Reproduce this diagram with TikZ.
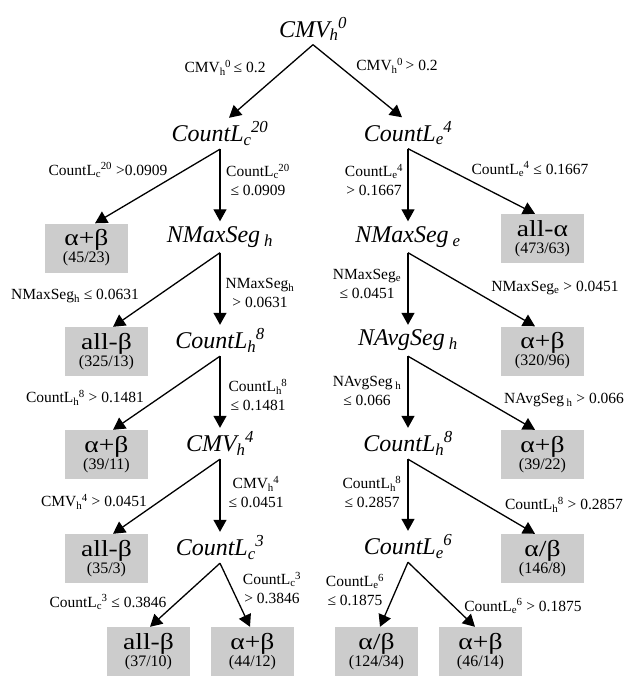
\documentclass[tikz,border=0pt]{standalone}
\usepackage{fontspec}
\setmainfont{Liberation Serif}
\usetikzlibrary{arrows.meta,positioning}

\newcommand{\sbsp}[2]{\textsubscript{#1}\kern-0.5pt\textsuperscript{#2}}
\newcommand{\lfbig}[1]{\scalebox{1.2}[1]{#1}}
\newcommand{\cnt}[1]{\\[-3pt]{\fontsize{16}{16}\selectfont (#1)}}

\begin{document}
\begin{tikzpicture}[x=1pt,y=-1pt,
  attr/.style={font=\fontsize{24}{24}\selectfont\itshape, minimum height=31pt, inner sep=0pt},
  leaf/.style={fill=black!20, minimum width=83pt, minimum height=49pt, inner sep=0pt, align=center,
    font=\fontsize{23}{20}\selectfont},
  cond/.style={font=\fontsize{15.5}{19}\selectfont, align=center, inner sep=0pt},
  branch/.style={-{Triangle[length=12pt,width=13pt]}, line width=1.3pt}]
\useasboundingbox (0,0) rectangle (627,676);

% split nodes
\node[attr] (cmv0) at (313,29) {CMV\sbsp{h}{0}};
\node[attr] (cl20) at (220,133.5) {CountL\sbsp{c}{20}};
\node[attr] (ce4) at (408,133) {CountL\sbsp{e}{4}};
\node[attr] (nmsh) at (220,237) {NMaxSeg\,\textsubscript{h}};
\node[attr] (nmse) at (408,237) {NMaxSeg\,\textsubscript{e}};
\node[attr] (clh8) at (220,340.5) {CountL\sbsp{h}{8}};
\node[attr] (nash) at (408,340.5) {NAvgSeg\,\textsubscript{h}};
\node[attr] (cmvh4) at (220,443.5) {CMV\sbsp{h}{4}};
\node[attr] (clh8b) at (408,443.5) {CountL\sbsp{h}{8}};
\node[attr] (clc3) at (220,547.5) {CountL\sbsp{c}{3}};
\node[attr] (ce6) at (408,546.5) {CountL\sbsp{e}{6}};

% leaves
\node[leaf] (l1) at (86.5,248) {\lfbig{α+β}\cnt{45/23}};
\node[leaf] (l2) at (542.5,238.5) {\lfbig{all-α}\cnt{473/63}};
\node[leaf] (l3) at (106.5,351.5) {\lfbig{all-β}\cnt{325/13}};
\node[leaf] (l4) at (542.5,351) {\lfbig{α+β}\cnt{320/96}};
\node[leaf] (l5) at (106.5,454.5) {\lfbig{α+β}\cnt{39/11}};
\node[leaf] (l6) at (542.5,454.5) {\lfbig{α+β}\cnt{39/22}};
\node[leaf] (l7) at (106.5,558.5) {\lfbig{all-β}\cnt{35/3}};
\node[leaf] (l8) at (542.5,558.5) {\lfbig{α/β}\cnt{146/8}};
\node[leaf] (l9) at (148.5,651.5) {\lfbig{all-β}\cnt{37/10}};
\node[leaf] (l10) at (252.5,651.5) {\lfbig{α+β}\cnt{44/12}};
\node[leaf] (l11) at (376.5,651.5) {\lfbig{α/β}\cnt{124/34}};
\node[leaf] (l12) at (480.5,651.5) {\lfbig{α+β}\cnt{46/14}};

% conditions
\node[cond] (e1) at (225,68) {CMV\sbsp{h}{0}\,≤ 0.2};
\node[cond] (e2) at (397,66) {CMV\sbsp{h}{0}\,> 0.2};
\node[cond] (e3) at (108,170) {CountL\sbsp{c}{20} >0.0909};
\node[cond] (e4) at (258,180) {CountL\sbsp{c}{20}\\≤ 0.0909};
\node[cond] (e5) at (374,180) {CountL\sbsp{e}{4}\\> 0.1667};
\node[cond] (e6) at (530,169) {CountL\sbsp{e}{4} ≤ 0.1667};
\node[cond] (e7) at (75,296) {NMaxSeg\textsubscript{h} ≤ 0.0631};
\node[cond] (e8) at (260,293) {NMaxSeg\textsubscript{h}\\> 0.0631};
\node[cond] (e9) at (367,284) {NMaxSeg\textsubscript{e}\\≤ 0.0451};
\node[cond] (e10) at (555,288) {NMaxSeg\textsubscript{e} > 0.0451};
\node[cond] (e11) at (85,398) {CountL\sbsp{h}{8} > 0.1481};
\node[cond] (e12) at (258,395) {CountL\sbsp{h}{8}\\≤ 0.1481};
\node[cond] (e13) at (367,391) {NAvgSeg\,\textsubscript{h}\\≤ 0.066};
\node[cond] (e14) at (564,400) {NAvgSeg\,\textsubscript{h} > 0.066};
\node[cond] (e15) at (94,502) {CMV\sbsp{h}{4} > 0.0451};
\node[cond] (e16) at (256,492) {CMV\sbsp{h}{4}\\≤ 0.0451};
\node[cond] (e17) at (372,492) {CountL\sbsp{h}{8}\\≤ 0.2857};
\node[cond] (e18) at (564,505) {CountL\sbsp{h}{8} > 0.2857};
\node[cond] (e19) at (108,602) {CountL\sbsp{c}{3} ≤ 0.3846};
\node[cond] (e20) at (272,588) {CountL\sbsp{c}{3}\\> 0.3846};
\node[cond] (e21) at (355,590) {CountL\sbsp{e}{6}\\≤ 0.1875};
\node[cond] (e22) at (523,606) {CountL\sbsp{e}{6} > 0.1875};

\draw[branch] (cmv0.south) -- ([xshift=9pt]cl20.north);
\draw[branch] (cmv0.south) -- ([xshift=-6pt]ce4.north);
\draw[branch] (cl20.south) -- ([xshift=8.5pt]l1.north);
\draw[branch] (cl20.south) -- (nmsh.north);
\draw[branch] (ce4.south) -- (nmse.north);
\draw[branch] (ce4.south) -- ([xshift=-7.5pt]l2.north);
\draw[branch] (nmsh.south) -- ([xshift=6.5pt]l3.north);
\draw[branch] (nmsh.south) -- (clh8.north);
\draw[branch] (nmse.south) -- (nash.north);
\draw[branch] (nmse.south) -- ([xshift=-7.5pt]l4.north);
\draw[branch] (clh8.south) -- ([xshift=6.5pt]l5.north);
\draw[branch] (clh8.south) -- (cmvh4.north);
\draw[branch] (nash.south) -- (clh8b.north);
\draw[branch] (nash.south) -- ([xshift=-7.5pt]l6.north);
\draw[branch] (cmvh4.south) -- ([xshift=6.5pt]l7.north);
\draw[branch] (cmvh4.south) -- (clc3.north);
\draw[branch] (clh8b.south) -- (ce6.north);
\draw[branch] (clh8b.south) -- ([xshift=-7.5pt]l8.north);
\draw[branch] (clc3.south) -- ([xshift=1.5pt]l9.north);
\draw[branch] (clc3.south) -- ([xshift=-2.5pt]l10.north);
\draw[branch] (ce6.south) -- ([xshift=3.5pt]l11.north);
\draw[branch] (ce6.south) -- ([xshift=-5.5pt]l12.north);
\end{tikzpicture}
\end{document}
